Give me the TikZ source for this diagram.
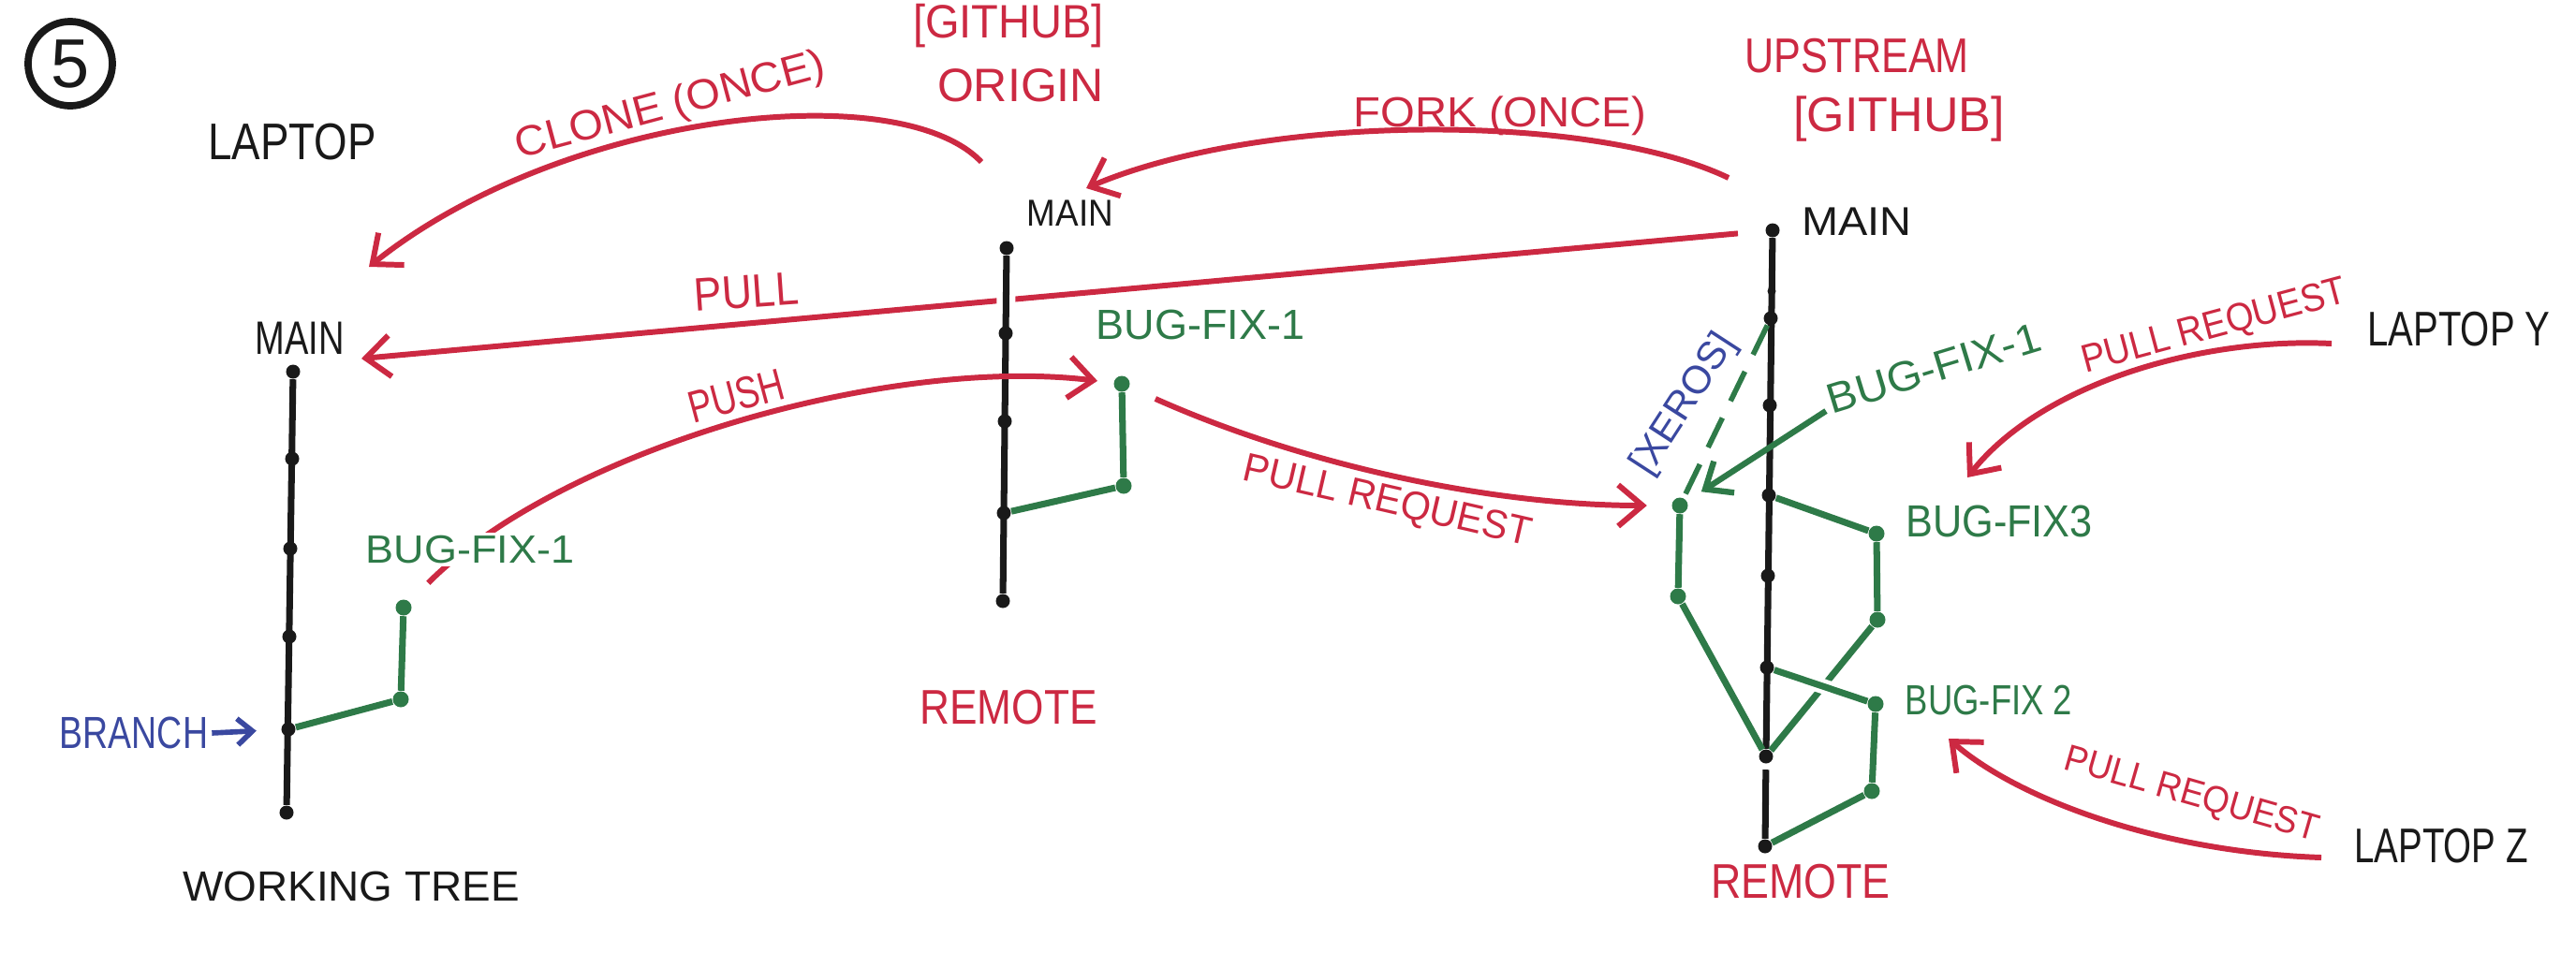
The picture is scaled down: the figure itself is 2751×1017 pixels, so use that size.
\documentclass[tikz,border=0pt]{standalone}
\usepackage{fontspec}
\setmainfont{Liberation Sans}
\usetikzlibrary{arrows.meta}
\definecolor{inkred}{RGB}{204,41,66}
\definecolor{inkgreen}{RGB}{46,122,72}
\definecolor{inkblue}{RGB}{58,72,160}
\definecolor{inkblack}{RGB}{25,25,25}
\newcommand\hsq[2]{\scalebox{#1}[1]{#2}}
\pgfdeclarelayer{paper}
\pgfdeclarelayer{bg}
\pgfsetlayers{paper,bg,main}
\begin{document}
\begin{tikzpicture}[x=0.01cm, y=-0.01cm,
  lbl/.style={inner sep=1pt, text=inkblack, font=\fontsize{#1pt}{#1pt}\selectfont},
  redlbl/.style={lbl=#1, text=inkred},
  greenlbl/.style={lbl=#1, text=inkgreen},
  bluelbl/.style={lbl=#1, text=inkblue},
  bdot/.style={circle, fill=inkblack, inner sep=0pt, minimum size=0.15cm},
  sdot/.style={circle, fill=inkblack, inner sep=0pt, minimum size=0.09cm},
  gdot/.style={circle, fill=inkgreen, inner sep=0pt, minimum size=0.17cm},
  trunk/.style={draw=inkblack, line width=2pt},
  twig/.style={draw=inkgreen, line width=2pt},
  flow/.style={draw=inkred, line width=1.7pt, -{Straight Barb[length=2.6mm,width=4.4mm]}},
  gflow/.style={draw=inkgreen, line width=1.8pt, -{Straight Barb[length=2.4mm,width=4mm]}},
  bflow/.style={draw=inkblue, line width=1.6pt, -{Straight Barb[length=1.6mm,width=2.8mm]}},
]
\begin{pgfonlayer}{paper}
\path[fill=white, use as bounding box] (0,0) rectangle (2751,1017);
\end{pgfonlayer}

% ---------- commit dots ----------
% laptop (working tree)
\node[bdot] (L1) at (313,397) {};
\node[bdot] (L2) at (312,490) {};
\node[bdot] (L3) at (310,586) {};
\node[bdot] (L4) at (309,680) {};
\node[bdot] (L5) at (308,779) {};
\node[bdot] (L6) at (306,868) {};
\node[gdot] (LG1) at (428,747) {};
\node[gdot] (LG2) at (431,649) {};
% origin
\node[bdot] (O1) at (1075,265) {};
\node[bdot] (O2) at (1074,356) {};
\node[bdot] (O3) at (1073,450) {};
\node[bdot] (O4) at (1072,548) {};
\node[bdot] (O5) at (1071,642) {};
\node[gdot] (OG1) at (1200,519) {};
\node[gdot] (OG2) at (1198,410) {};
% upstream
\node[bdot] (U1) at (1893,246) {};
\node[sdot] (U2) at (1892,311) {};
\node[bdot] (U3) at (1891,340) {};
\node[bdot] (U4) at (1890,433) {};
\node[bdot] (U5) at (1889,529) {};
\node[bdot] (U6) at (1888,615) {};
\node[bdot] (U7) at (1887,713) {};
\node[bdot] (U8) at (1886,808) {};
\node[bdot] (U9) at (1885,904) {};
\node[gdot] (X1) at (1794,540) {};
\node[gdot] (X2) at (1792,637) {};
\node[gdot] (B3a) at (2004,570) {};
\node[gdot] (B3b) at (2005,662) {};
\node[gdot] (B2a) at (2003,752) {};
\node[gdot] (B2b) at (1999,845) {};

% ---------- free ends ----------
\coordinate (cloneS) at (1048,173);
\coordinate (cloneE) at (394,285);
\coordinate (forkS) at (1846,190);
\coordinate (forkE) at (1160,201);
\coordinate (pullE) at (386,383);
\coordinate (gaS) at (1950,439);
\coordinate (prYs) at (2490,367);
\coordinate (prYe) at (2101,510);
\coordinate (prZs) at (2479,916);
\coordinate (prZe) at (2081,789);

% ---------- labels ----------
\node[circle, draw=inkblack, line width=2.2pt, minimum size=0.9cm, inner sep=0pt, lbl=21] (five) at (75,68) {5};
\node[lbl=15.65] (lapL) at (312,152) {\hsq{0.83}{LAPTOP}};
\node[lbl=14.23] (mainL) at (320,361) {\hsq{0.76}{MAIN}};
\node[bluelbl=13.66] (branch) at (143,783) {\hsq{0.78}{BRANCH}};
\node[lbl=12.8] (wt) at (375,947) {\hsq{1.02}{WORKING TREE}};
\node[greenlbl=11.95, fill=white] (bfL) at (502,587) {\hsq{1.07}{BUG-FIX-1}};
\node[redlbl=12.8, rotate=15] (clone) at (716,114) {\hsq{1.04}{CLONE (ONCE)}};
\node[redlbl=14.23] (ghO) at (1077,28) {\hsq{0.94}{[GITHUB]}};
\node[redlbl=14.23] (origin) at (1090,91) {ORIGIN};
\node[lbl=11.38] (mainO) at (1143,228) {\hsq{0.92}{MAIN}};
\node[redlbl=14.23, rotate=4] (pull) at (797,312) {\hsq{0.89}{PULL}};
\node[redlbl=13.66, rotate=15] (push) at (786,423) {\hsq{0.78}{PUSH}};
\node[greenlbl=12.8] (bfO) at (1282,347) {BUG-FIX-1};
\node[redlbl=14.79] (remO) at (1077,756) {\hsq{0.85}{REMOTE}};
\node[redlbl=12.23, rotate=-13] (prM) at (1481,537) {\hsq{0.96}{PULL REQUEST}};
\node[redlbl=12.8] (fork) at (1602,124) {\hsq{1.05}{FORK (ONCE)}};
\node[redlbl=14.79] (upstream) at (1983,60) {\hsq{0.83}{UPSTREAM}};
\node[redlbl=14.79] (ghU) at (2028,127) {[GITHUB]};
\node[lbl=12.23] (mainU) at (1983,237) {\hsq{1.09}{MAIN}};
\node[bluelbl=11.95, rotate=57] (xeros) at (1799,432) {[XEROS]};
\node[greenlbl=12.8, rotate=17] (bfU) at (2065,393) {\hsq{1.06}{BUG-FIX-1}};
\node[greenlbl=13.66] (bf3) at (2135,557) {\hsq{0.9}{BUG-FIX3}};
\node[greenlbl=12.8] (bf2) at (2124,748) {\hsq{0.81}{BUG-FIX 2}};
\node[redlbl=14.79] (remU) at (1923,942) {\hsq{0.86}{REMOTE}};
\node[redlbl=11.95, rotate=15] (prY) at (2365,350) {\hsq{0.91}{PULL REQUEST}};
\node[lbl=14.79] (lapY) at (2626,352) {\hsq{0.77}{LAPTOP Y}};
\node[redlbl=11.38, rotate=-16] (prZ) at (2340,850) {\hsq{0.92}{PULL REQUEST}};
\node[lbl=14.79] (lapZ) at (2607,904) {\hsq{0.74}{LAPTOP Z}};

% ---------- lines and connectors (behind dots and labels) ----------
\begin{pgfonlayer}{bg}
% pull (drawn first so the origin trunk cuts it)
\draw[flow, shorten <=0.29cm] (U1) -- (pullE);
% trunks
\draw[trunk] (L1) -- (L6);
\draw[trunk, preaction={draw=white, line width=0.2cm}] (O1) -- (O5);
\draw[trunk] (U1) -- (U8);
\draw[trunk, shorten <=0.06cm] (U8) -- (U9);
% branches
\draw[twig] (L5) -- (LG1) -- (LG2);
\draw[twig] (O4) -- (OG1) -- (OG2);
\draw[twig] (X1) -- (X2) -- (U8);
\draw[twig, line width=1.6pt, dash pattern=on 0.35cm off 0.2cm] (U3) -- (X1);
\draw[twig] (U5) -- (B3a) -- (B3b) -- (U8);
\draw[twig, preaction={draw=white, line width=0.16cm, shorten <=0.4cm, shorten >=0.4cm}] (U7) -- (B2a);
\draw[twig] (B2a) -- (B2b) -- (U9);
% red connectors
\draw[flow] (cloneS) .. controls (960,80) and (600,120) .. (cloneE);
\draw[flow] (forkS) .. controls (1700,120) and (1350,120) .. (forkE);
\draw[flow, shorten <=0.28cm, shorten >=0.17cm] (LG2) .. controls (600,480) and (950,380) .. (OG2);
\draw[flow, shorten <=0.30cm, shorten >=0.26cm] (OG2) .. controls (1400,500) and (1600,540) .. (X1);
\draw[flow] (prYs) .. controls (2350,360) and (2180,410) .. (prYe);
\draw[flow] (prZs) .. controls (2300,910) and (2150,850) .. (prZe);
% green and blue pointers
\draw[gflow, shorten >=0.18cm] (gaS) -- (X1);
\draw[bflow, shorten >=0.26cm] (branch.east) -- (L5);
\end{pgfonlayer}
\end{tikzpicture}
\end{document}
